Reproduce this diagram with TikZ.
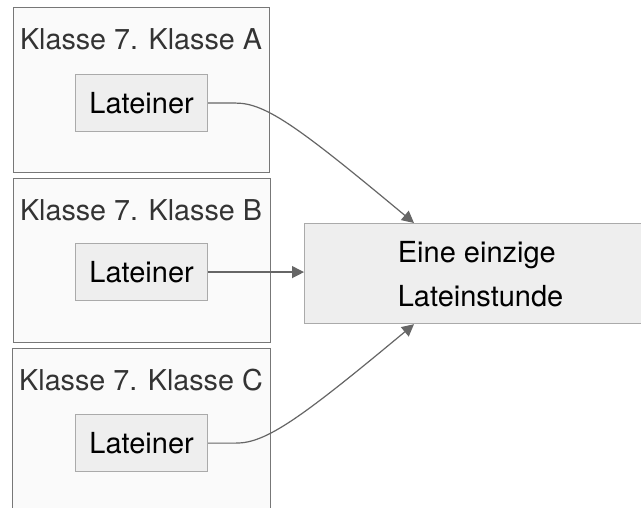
\documentclass[tikz,border=0pt]{standalone}
\usepackage{fontspec}
\setmainfont{TeX Gyre Heros}
\usetikzlibrary{arrows.meta,calc}
\definecolor{clfill}{HTML}{FAFAFA}
\definecolor{clline}{HTML}{777777}
\definecolor{ndfill}{HTML}{EEEEEE}
\definecolor{ndline}{HTML}{AAAAAA}
\definecolor{edge}{HTML}{666666}
\definecolor{lbl}{HTML}{333333}
\tikzset{
  cluster/.style={draw=clline, fill=clfill, line width=1.2pt, rectangle, anchor=north west, inner sep=0pt},
  cltext/.style={text=lbl, font=\fontsize{28.7}{33}\selectfont, inner sep=0pt},
  lat/.style={draw=ndline, fill=ndfill, line width=1.2pt, rectangle, minimum width=132pt, minimum height=57pt, inner sep=0pt, font=\fontsize{29}{33}\selectfont, anchor=north west},
  big/.style={draw=ndline, fill=ndfill, line width=1.2pt, rectangle, minimum width=338pt, minimum height=100pt, inner sep=0pt, anchor=north west},
  conn/.style={draw=edge, line width=1.2pt, -{Triangle[length=12pt,width=12pt]}}
}
\begin{document}
\begin{tikzpicture}[x=1pt,y=-1pt]
\useasboundingbox (0,0) rectangle (641,508);
\clip (0,0) rectangle (641,508);
\fill[white] (0,0) rectangle (641,508);
% clusters
\node[cluster, minimum width=256pt, minimum height=165pt] (ca) at (13,7) {};
\node[cluster, minimum width=257pt, minimum height=164pt] (cb) at (13,178) {};
\node[cluster, minimum width=258pt, minimum height=180pt] (cc) at (12,348) {};
\node[cltext] (la) at (141,39) {Klasse 7. Klasse A};
\node[cltext] (lb) at (141,210) {Klasse 7. Klasse B};
\node[cltext] (lc) at (141,380) {Klasse 7. Klasse C};
% inner nodes
\node[lat] (a) at (75,74) {Lateiner};
\node[lat] (b) at (75,243) {Lateiner};
\node[lat] (c) at (75,414) {Lateiner};
% target
\node[big] (t) at (304,223) {};
\node[font=\fontsize{29}{44}\selectfont, align=left, inner sep=0pt] (tt) at ($(t.center)+(7,1)$) {Eine einzige\\Lateinstunde};
\coordinate (ta) at ($(t.north west)+(110,0)$);
\coordinate (tc) at ($(t.south west)+(110,0)$);
% connectors
\draw[conn] (a.east) -- ++(28,0) .. controls ++(30,0) and ($(ta)+(-113,-94)$) .. (ta);
\draw[conn] (b.east) -- (t.west |- b.east);
\draw[conn] (c.east) -- ++(28,0) .. controls ++(30,0) and ($(tc)+(-113,94)$) .. (tc);
\end{tikzpicture}
\end{document}
